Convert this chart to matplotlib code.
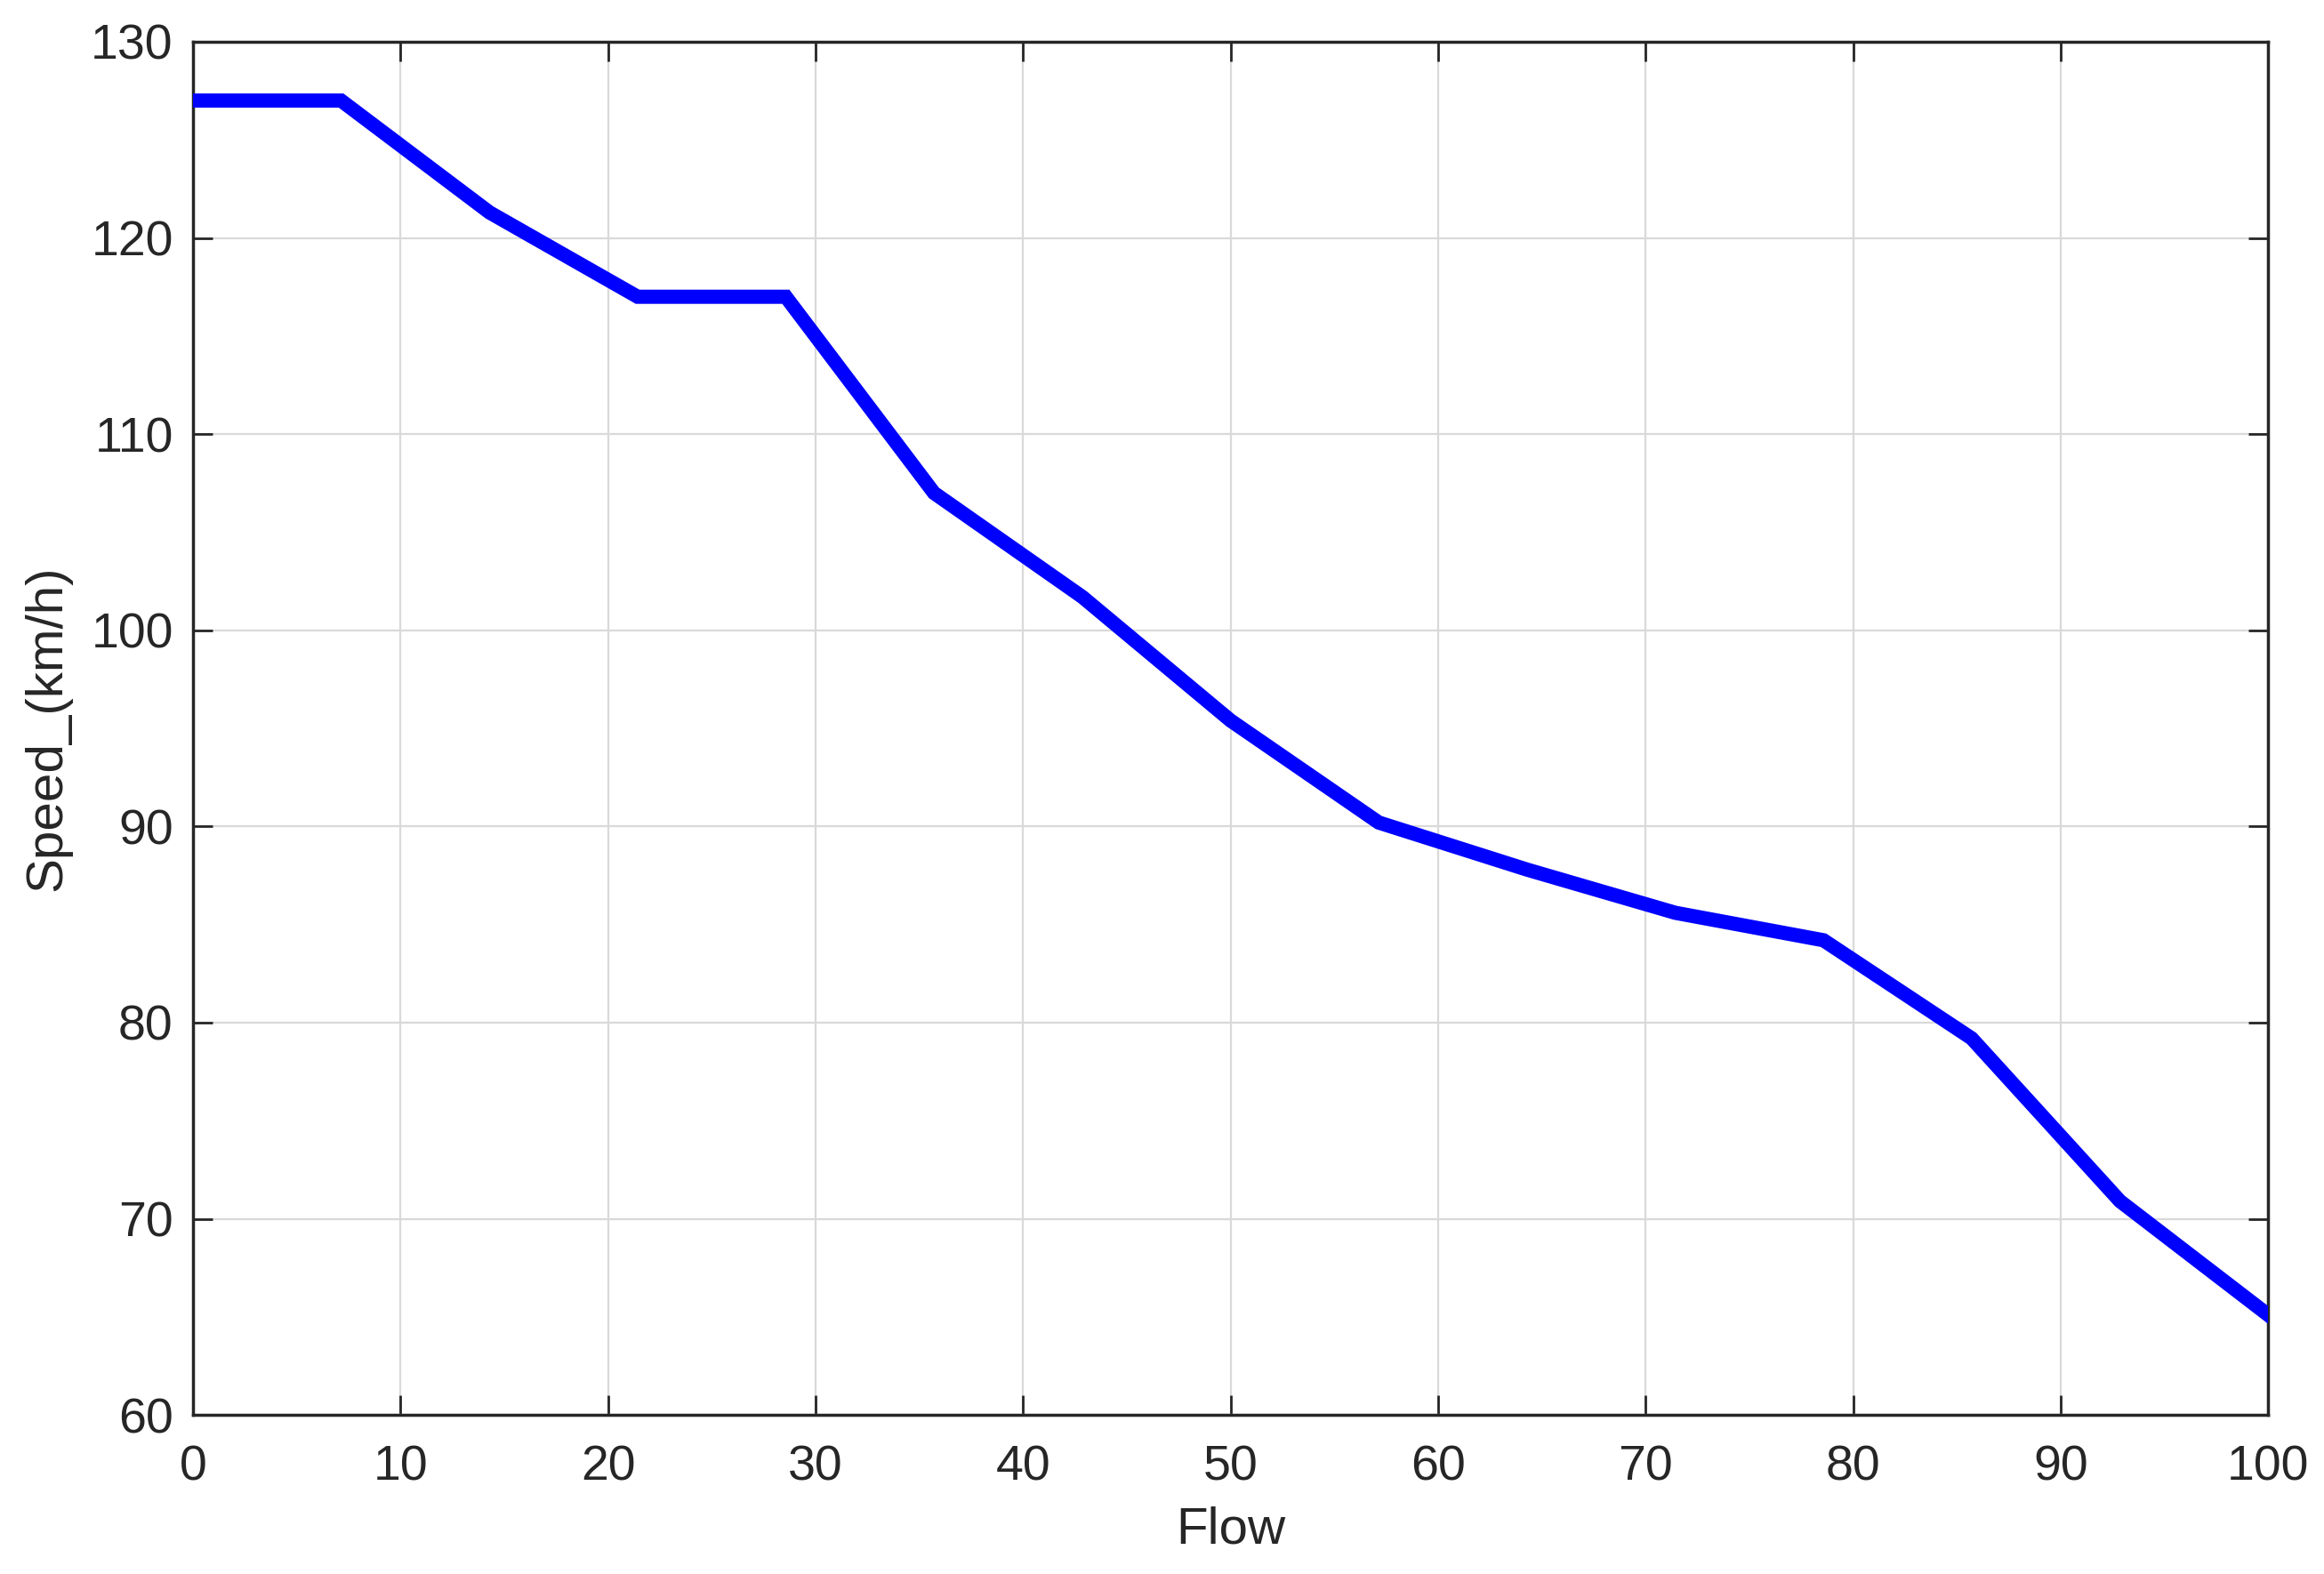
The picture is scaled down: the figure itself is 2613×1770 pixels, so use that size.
import matplotlib
matplotlib.use("Agg")
import matplotlib.pyplot as plt
import numpy as np

# speed vs flow data
flow = [0, 7.14, 14.29, 21.43, 28.57, 35.71, 42.86, 50,
        57.14, 64.29, 71.43, 78.57, 85.71, 92.86, 100]
speed = [127.0, 127.0, 121.3, 117.0, 117.0, 107.0, 101.7, 95.4,
         90.2, 87.8, 85.6, 84.2, 79.2, 70.9, 65.1]

xticks = list(range(0, 101, 10))
yticks = list(range(60, 131, 10))

plt.rcParams['font.family'] = ['Liberation Sans', 'DejaVu Sans']
dark = '#262626'

fig = plt.figure(figsize=(26.13, 17.70), dpi=100)
ax = fig.add_axes([0.083, 0.101, 0.893, 0.8725])

ax.plot(flow, speed, color='#0000ff', linewidth=11.5, solid_joinstyle='miter', zorder=3)

ax.set_xlim(0, 100)
ax.set_ylim(60, 130)
ax.set_xticks(xticks)
ax.set_yticks(yticks)
ax.grid(True, color='#d9d9d9', linewidth=1.6)
ax.set_axisbelow(True)

ax.tick_params(direction='in', length=16, width=2, color=dark, labelcolor=dark,
               labelsize=40, top=True, right=True, pad=16)
ax.tick_params(axis='x', pad=24)
for s in ax.spines.values():
    s.set_color(dark)
    s.set_linewidth(2.5)

ax.set_xlabel('Flow', fontsize=42, color=dark, labelpad=12)
ax.set_ylabel('Speed_(km/h)', fontsize=42, color=dark, labelpad=16)

fig.savefig('out.png', dpi=100, facecolor='white')
